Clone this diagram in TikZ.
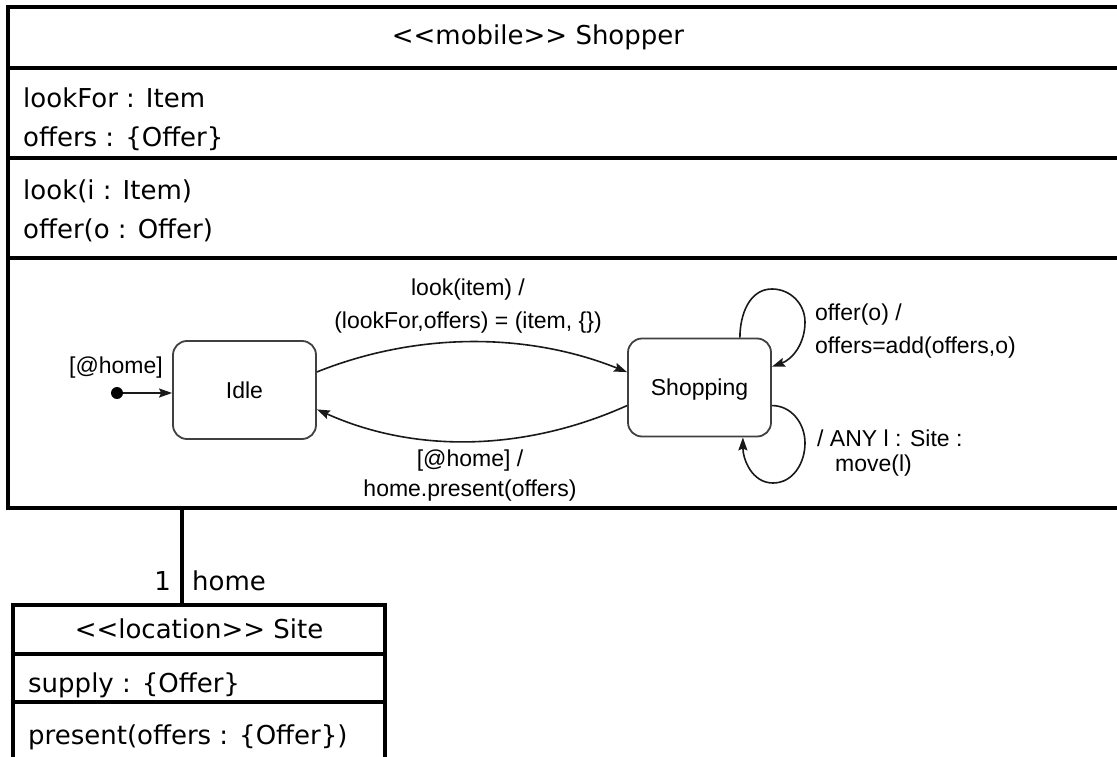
\documentclass[tikz,border=0pt]{standalone}
\usepackage{fontspec}
\setmainfont{DejaVu Sans}
\newfontfamily\scfont{Liberation Sans}
\usetikzlibrary{arrows.meta}
\begin{document}
\begin{tikzpicture}[x=1pt,y=-1pt,
  umlline/.style={line width=4pt, line join=miter},
  umltext/.style={font=\fontsize{26}{30}\selectfont, inner sep=0pt, anchor=base west},
  sctext/.style={font=\scfont\fontsize{23}{26}\selectfont, inner sep=0pt, anchor=base},
  stbox/.style={draw=black!75, line width=1.8pt, rounded corners=14pt, minimum width=143pt, minimum height=98pt,
    text height=16.5pt, text depth=0pt, font=\scfont\fontsize{23}{26}\selectfont},
  trans/.style={draw=black!90, line width=1.6pt, -{Stealth[length=13pt,width=9pt,inset=2pt]}},
]
\useasboundingbox (0,0) rectangle (1117,757);

% Shopper class box
\coordinate (shTR) at (1117,7);
\coordinate (shTL) at (8,7);
\coordinate (shBL) at (8,508);
\coordinate (shBR) at (1117,508);
\draw[umlline] (shTR) -- (shTL) -- (shBL) -- (shBR);
\coordinate (s1L) at (8,68);  \coordinate (s1R) at (1117,68);
\coordinate (s2L) at (8,158); \coordinate (s2R) at (1117,158);
\coordinate (s3L) at (8,258); \coordinate (s3R) at (1117,258);
\draw[umlline] (s1L) -- (s1R);
\draw[umlline] (s2L) -- (s2R);
\draw[umlline] (s3L) -- (s3R);

\node[umltext, anchor=base] (shtitle) at (538,45) {<{}<mobile>{}> Shopper};
\node[umltext] (a1) at (23,108) {lookFor : Item};
\node[umltext] (a2) at (23,147) {offers : \{Offer\}};
\node[umltext] (o1) at (23,200) {look(i : Item)};
\node[umltext] (o2) at (23,238) {offer(o : Offer)};

% statechart
\node[stbox] (Idle) at (244.5,390) {Idle};
\node[stbox] (Shopping) at (699.5,387.5) {Shopping};
\node[circle, fill=black, inner sep=0pt, minimum size=12pt] (init) at (117,393) {};
\draw[trans] (init) -- (Idle.west |- init);
\draw[trans] (Idle.14) .. controls +(100,-40) and +(-100,-40) .. (Shopping.168);
\draw[trans] (Shopping.194) .. controls +(-100,45) and +(100,45) .. (Idle.345);
\draw[trans] (Shopping.51) to[out=90,in=180] (772,289) to[out=0,in=90] (805,322) to[out=-90,in=20] (Shopping.16);
\draw[trans] (Shopping.-14.5) to[out=0,in=90] (805,443) to[out=-90,in=0] (773,483) to[out=180,in=-90] (Shopping.-49);

\node[sctext] (l1) at (468,295) {look(item) /};
\node[sctext] (l2) at (468,328) {(lookFor,offers) = (item, \{\})};
\node[sctext] (l3) at (470,466) {[@home] /};
\node[sctext] (l4) at (470,496) {home.present(offers)};
\node[sctext, anchor=base east] (l5) at (163,373) {[@home]};
\node[sctext, anchor=base west] (l6) at (815,320) {offer(o) /};
\node[sctext, anchor=base west] (l7) at (815,353) {offers=add(offers,o)};
\node[sctext, anchor=base west] (l8) at (817,446) {/ ANY l : Site :};
\node[sctext, anchor=base west] (l9) at (835,471) {move(l)};

% association
\coordinate (asA) at (182,508);
\coordinate (asB) at (182,605);
\draw[umlline] (asA) -- (asB);
\node[umltext, anchor=base east] (mult) at (171,590) {1};
\node[umltext] (role) at (192,590) {home};

% Site class box
\coordinate (siBL) at (13,757);
\coordinate (siTL) at (13,605);
\coordinate (siTR) at (385,605);
\coordinate (siBR) at (385,757);
\draw[umlline] (siBL) -- (siTL) -- (siTR) -- (siBR);
\coordinate (t1L) at (13,654); \coordinate (t1R) at (385,654);
\coordinate (t2L) at (13,702); \coordinate (t2R) at (385,702);
\draw[umlline] (t1L) -- (t1R);
\draw[umlline] (t2L) -- (t2R);
\node[umltext, anchor=base] (sititle) at (199,638) {<{}<location>{}> Site};
\node[umltext] (sa1) at (28,692) {supply : \{Offer\}};
\node[umltext] (so1) at (28,744) {present(offers : \{Offer\})};
\end{tikzpicture}
\end{document}
